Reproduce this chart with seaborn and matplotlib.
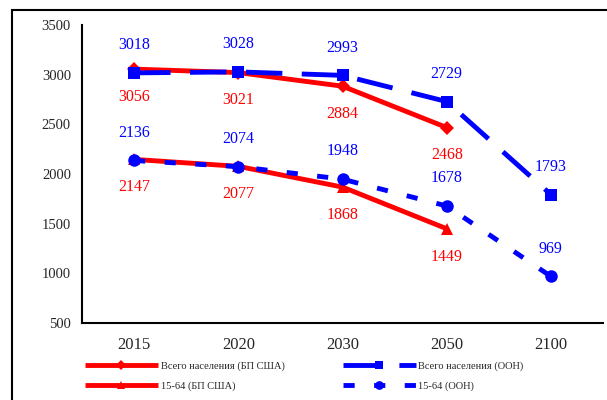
import matplotlib
matplotlib.use("Agg")
import matplotlib.pyplot as plt
from matplotlib.patches import Rectangle
import numpy as np
import pandas as pd
import seaborn as sns

# ── Data ──────────────────────────────────────────────────────────────────────
years = ["2015", "2020", "2030", "2050", "2100"]

total_bp = [3056, 3021, 2884, 2468]          # Всего населения (БП США)
total_un = [3018, 3028, 2993, 2729, 1793]    # Всего населения (ООН)
work_bp = [2147, 2077, 1868, 1449]           # 15-64 (БП США)
work_un = [2136, 2074, 1948, 1678, 969]      # 15-64 (ООН)

series_names = [
    "Всего населения (БП США)",
    "15-64 (БП США)",
    "Всего населения (ООН)",
    "15-64 (ООН)",
]
series_values = [total_bp, work_bp, total_un, work_un]

RED = "#FF0000"
BLUE = "#0000FF"
palette = dict(zip(series_names, [RED, RED, BLUE, BLUE]))
markers = dict(zip(series_names, ["D", "^", "s", "o"]))
dashes = dict(zip(series_names, ["", "", (7.5, 4.0), (2.3, 4.0)]))
msizes = dict(zip(series_names, [7, 9, 9, 9]))
label_side = dict(zip(series_names, [-1, -1, 1, 1]))   # red below, blue above

rows = []
for name, vals in zip(series_names, series_values):
    for i, v in enumerate(vals):
        rows.append({"pos": i, "year": years[i], "value": v, "series": name})
df = pd.DataFrame(rows)

# ── Plot ──────────────────────────────────────────────────────────────────────
sns.set_style("white")
plt.rcParams["font.family"] = ["Liberation Serif", "DejaVu Serif"]

fig = plt.figure(figsize=(6.07, 4.00), dpi=100)
ax = fig.add_axes([82 / 607, 1 - 323 / 400, (603 - 82) / 607, (323 - 25) / 400])

sns.lineplot(
    data=df, x="pos", y="value", hue="series", style="series",
    hue_order=series_names, style_order=series_names,
    palette=palette, markers=markers, dashes=dashes,
    linewidth=3.5, markeredgewidth=0, legend=False, ax=ax,
)
for line, name in zip(ax.get_lines(), series_names):
    line.set_markersize(msizes[name])
    line.set_solid_capstyle("butt")
    line.set_dash_capstyle("butt")

# value labels
for _, r in df.iterrows():
    side = label_side[r["series"]]
    ax.annotate(
        f"{r['value']:.0f}", (r["pos"], r["value"]),
        xytext=(0, 20 * side), textcoords="offset points",
        ha="center", va="center", fontsize=11.5,
        color=palette[r["series"]],
    )

ax.set_xlim(-0.5, len(years) - 0.5)
ax.set_ylim(500, 3500)
ax.set_yticks(np.arange(500, 3501, 500))
ax.set_xticks(np.arange(len(years) + 1) - 0.5)
ax.set_xticklabels([])
ax.set_xticks(np.arange(len(years)), minor=True)
ax.set_xticklabels(years, minor=True, fontsize=12)
ax.tick_params(axis="x", which="major", direction="out", length=5, width=1.5, color="black")
ax.tick_params(axis="x", which="minor", length=0, pad=10)
ax.tick_params(axis="y", direction="out", length=5, width=1.5, color="black",
               labelsize=10.5, pad=3)
ax.set_xlabel("")
ax.set_ylabel("")
ax.spines[["top", "right"]].set_visible(False)
for s in ("left", "bottom"):
    ax.spines[s].set_color("black")
    ax.spines[s].set_linewidth(1.5)

ax.legend(
    handles=ax.get_lines()[:4], labels=series_names,
    ncol=2, loc="upper left", bbox_to_anchor=(85 / 607, 1 - 361 / 400),
    bbox_transform=fig.transFigure, frameon=False, fontsize=7.5,
    handlelength=7.0, handletextpad=0.25, columnspacing=5.6,
    labelspacing=1.05, borderpad=0, borderaxespad=0, markerscale=0.7,
)

# outer frame of the chart area (cropped at right and bottom)
fig.add_artist(Rectangle((12 / 607, -0.05), 1.2, 0.05 + 1 - 10 / 400,
                         transform=fig.transFigure, fill=False,
                         edgecolor="black", linewidth=1.5, clip_on=False))

fig.savefig("out.png", dpi=100)
